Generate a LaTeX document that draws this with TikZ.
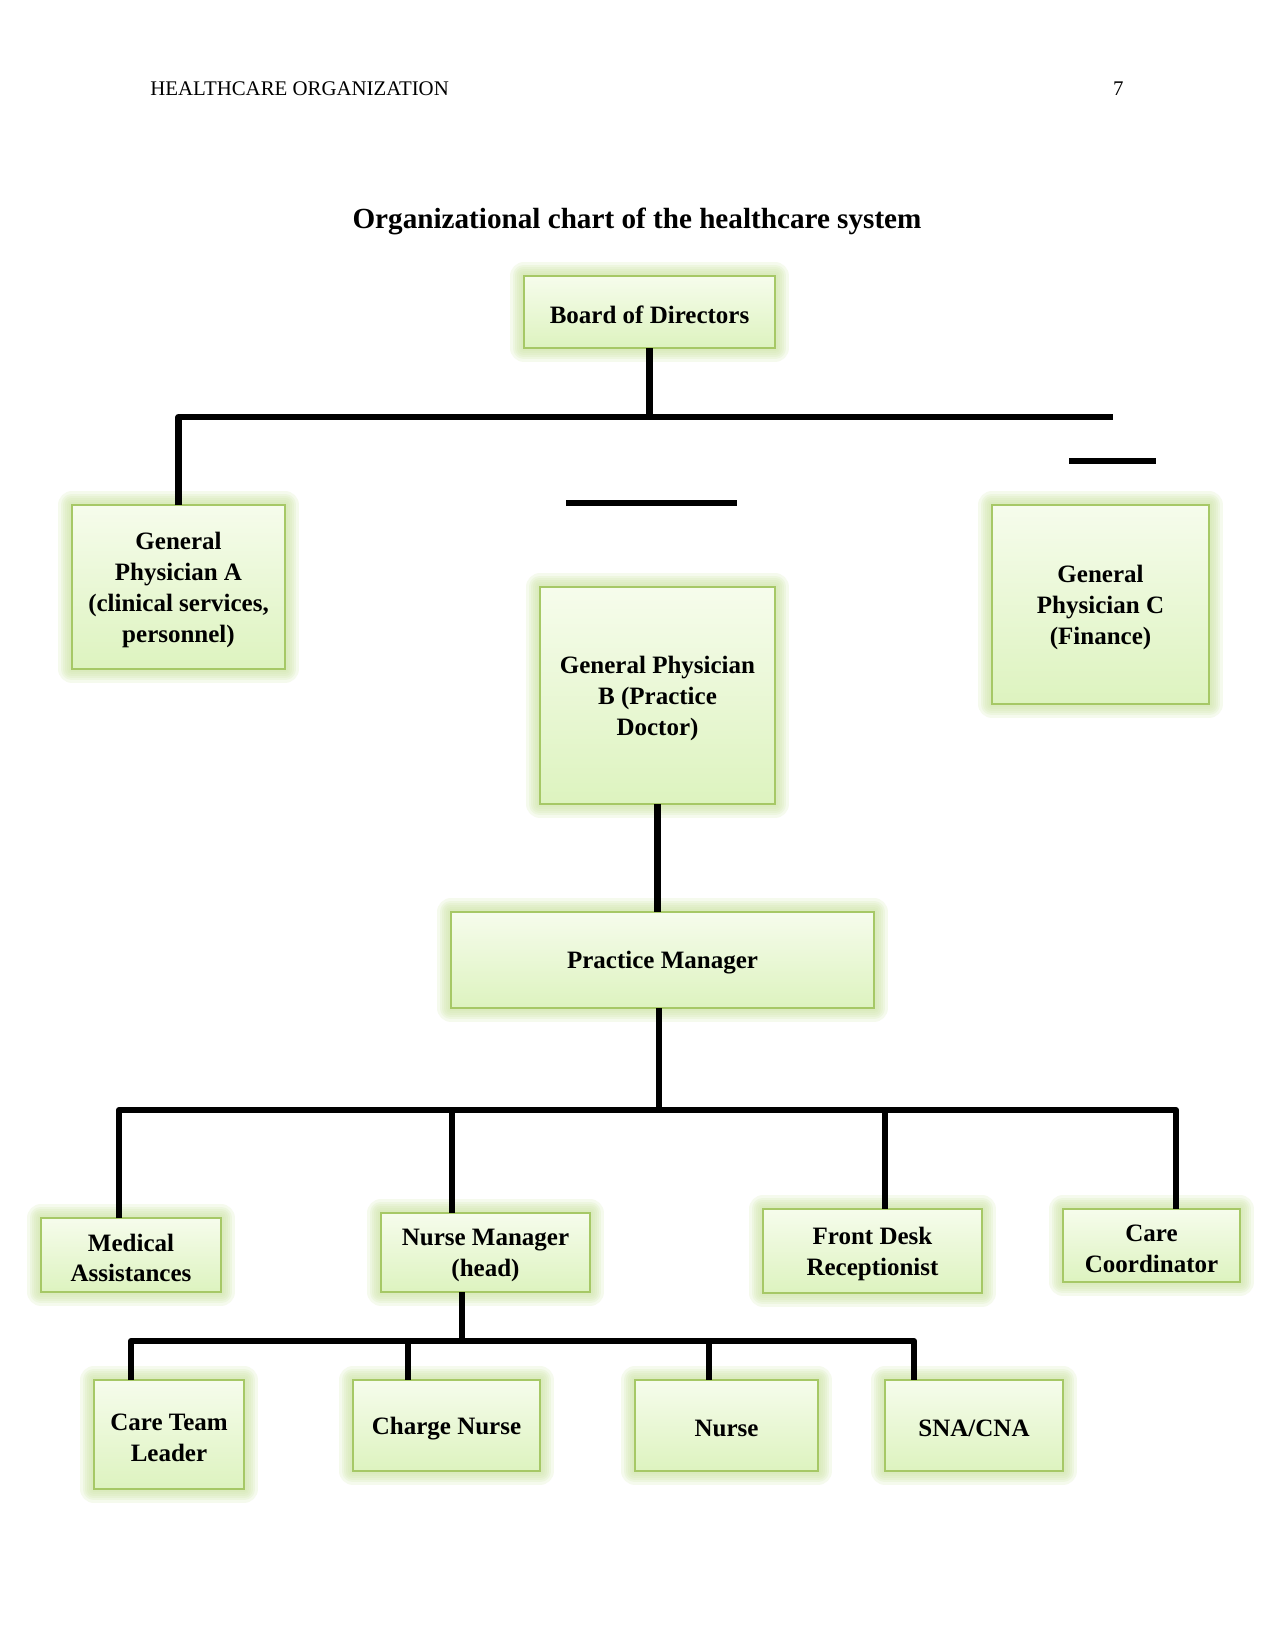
\documentclass[tikz,border=0pt]{standalone}
\usepackage{fontspec}
\setmainfont{Liberation Serif}
\usetikzlibrary{calc}
\definecolor{glowc}{HTML}{CFE6A8}
\definecolor{bordc}{HTML}{A6C866}
\definecolor{topc}{HTML}{F6FCEC}
\definecolor{botc}{HTML}{DDF3BF}
\tikzset{
  gl/.style={draw=glowc, line width=#1, line join=round, opacity=0.2},
  box/.style={
    preaction={gl=13pt}, preaction={gl=11pt}, preaction={gl=9pt},
    preaction={gl=7pt}, preaction={gl=5pt}, preaction={gl=3pt},
    top color=topc, bottom color=botc, draw=bordc, line width=1.2pt,
    inner sep=0pt, outer sep=0pt},
  boxtext/.style={inner sep=0pt, align=center,
    font=\fontsize{12}{14.8}\selectfont\bfseries},
  conn/.style={line width=2.9pt, line join=round, black},
}
\newcommand\orgbox[6]{%
  \pgfmathsetmacro\obcx{(#2+#4)/2}%
  \pgfmathsetmacro\obcy{(#3+#5)/2}%
  \pgfmathsetmacro\obw{(#4-#2)*0.48}%
  \pgfmathsetmacro\obh{(#5-#3)*0.48}%
  \node[box, minimum width=\obw pt, minimum height=\obh pt] (#1) at (\obcx,\obcy) {};
  \node[boxtext] (#1-t) at ($(#1.center)+(0,3)$) {#6};}
\begin{document}
\begin{tikzpicture}[x=0.48pt, y=-0.48pt]
\useasboundingbox (0,0) rectangle (1275,1651);
\fill[white] (0,0) rectangle (1275,1651);
% header
\node[anchor=base west, inner sep=0pt, font=\fontsize{10}{12}\selectfont] (hdr) at (150,96) {HEALTHCARE ORGANIZATION};
\node[anchor=base east, inner sep=0pt, font=\fontsize{10}{12}\selectfont] (pg) at (1124,96) {7};
\node[inner sep=0pt, font=\fontsize{14}{17}\selectfont\bfseries] (title) at (637,221) {Organizational chart of the healthcare system};
% boxes
\orgbox{bod}{524}{276}{775}{348}{Board of Directors}
\orgbox{gpa}{72}{505}{285}{669}{General\\Physician A\\(clinical services,\\personnel)}
\orgbox{gpb}{540}{587}{775}{804}{General Physician\\B (Practice\\Doctor)}
\orgbox{gpc}{992}{505}{1209}{704}{General\\Physician C\\(Finance)}
\orgbox{pm}{451}{912}{874}{1008}{Practice Manager}
\orgbox{ma}{41}{1218}{221}{1292}{Medical\\Assistances}
\orgbox{nm}{381}{1213}{590}{1292}{Nurse Manager\\(head)}
\orgbox{fd}{763}{1209}{982}{1293}{Front Desk\\Receptionist}
\orgbox{cc}{1063}{1209}{1240}{1282}{Care\\Coordinator}
\orgbox{ctl}{94}{1380}{244}{1489}{Care Team\\Leader}
\orgbox{cn}{353}{1380}{540}{1471}{Charge Nurse}
\orgbox{nu}{635}{1380}{818}{1471}{Nurse}
\orgbox{sna}{885}{1380}{1063}{1471}{SNA/CNA}
% top bus
\coordinate (busT) at (652,417);
\coordinate (busTR) at (1113,417);
\draw[conn] (bod.south) -- (bod.south |- busT);
\draw[conn] (gpa.north) |- (busTR);
% stray segments
\coordinate (s1) at (566,503);
\coordinate (s2) at (737,503);
\coordinate (s3) at (1069,461);
\coordinate (s4) at (1156,461);
\draw[conn] (s1) -- (s2);
\draw[conn] (s3) -- (s4);
% GP B to PM
\draw[conn] (gpb.south) -- (gpb.south |- pm.north);
% middle bus
\coordinate (busM) at (659,1110);
\coordinate (mL) at (119,1110);
\coordinate (mR) at (1176,1110);
\coordinate (m2) at (452,1110);
\coordinate (m3) at (885,1110);
\draw[conn] (pm.south -| busM) -- (busM);
\draw[conn] (ma.north -| mL) |- (busM) -| (cc.north -| mR);
\draw[conn] (m2) -- (m2 |- nm.north);
\draw[conn] (m3) -- (m3 |- fd.north);
% lower bus
\coordinate (busL) at (462,1341);
\coordinate (lL) at (131,1341);
\coordinate (lR) at (914,1341);
\coordinate (l2) at (408,1341);
\coordinate (l3) at (709,1341);
\draw[conn] (nm.south -| busL) -- (busL);
\draw[conn] (ctl.north -| lL) |- (busL) -| (sna.north -| lR);
\draw[conn] (l2) -- (l2 |- cn.north);
\draw[conn] (l3) -- (l3 |- nu.north);
\end{tikzpicture}
\end{document}
